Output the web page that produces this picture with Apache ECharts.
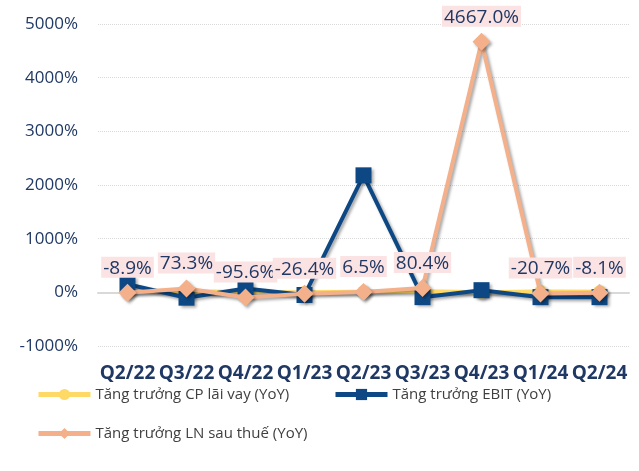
<!DOCTYPE html>
<html><head><meta charset="utf-8">
<script src="https://cdn.jsdelivr.net/npm/echarts@6/dist/echarts.min.js"></script>
<style>html,body{margin:0;padding:0;background:#fff}#c{width:639px;height:471px}</style>
</head><body><div id="c"></div>
<script>
const categories = ['Q2/22','Q3/22','Q4/22','Q1/23','Q2/23','Q3/23','Q4/23','Q1/24','Q2/24'];
const cpLaiVay = [10, 20, 5, 0, 10, 20, 0, 15, 10];
const ebit = [150, -100, 70, -50, 2180, -90, 40, -90, -90];
const lnSauThue = [-8.9, 73.3, -95.6, -26.4, 6.5, 80.4, 4667.0, -20.7, -8.1];
const yTicks = [-1000, 0, 1000, 2000, 3000, 4000, 5000];

const navy = '#1F3864';
const font = '"Open Sans", "Noto Sans", sans-serif';
const shadow = {shadowColor:'rgba(0,0,0,0.35)', shadowBlur:3, shadowOffsetX:2, shadowOffsetY:2};
const chart = echarts.init(document.getElementById('c'));
function legendFor(name, left, top){
  return {data:[name], left:left, top:top, itemWidth:52, itemHeight:14, itemGap:4,
    lineStyle:{width:5},
    textStyle:{color:'#404040', fontSize:15, fontFamily:font}};
}
chart.setOption({
  animation:false,
  grid:{left:98, right:10, top:24, bottom:125, containLabel:false},
  legend:[legendFor('Tăng trưởng CP lãi vay (YoY)', 31, 382), legendFor('Tăng trưởng EBIT (YoY)', 328, 382), legendFor('Tăng trưởng LN sau thuế (YoY)', 31, 421)],
  xAxis:{type:'category', data:categories, boundaryGap:true,
    axisLine:{onZero:true, lineStyle:{color:'#D9D9D9', width:2}},
    axisTick:{show:false},
    axisLabel:{interval:0, color:navy, fontWeight:'bold', fontSize:19, fontFamily:font, margin:18},
    position:'bottom'
  },
  yAxis:{type:'value', min:-1000, max:5000, interval:1000,
    axisLine:{show:false}, axisTick:{show:false},
    axisLabel:{color:navy, fontSize:17, fontFamily:font, margin:20, formatter:v=>yTicks.includes(v)? v+'%':''},
    splitLine:{lineStyle:{color:'#D9D9D9', type:'dotted', width:1}}
  },
  series:[
    {name:'Tăng trưởng CP lãi vay (YoY)', type:'line', data:cpLaiVay, symbol:'circle', symbolSize:13,
      itemStyle:{color:'#FFD966', ...shadow}, lineStyle:{color:'#FFD966', width:4, ...shadow}, z:2},
    {name:'Tăng trưởng EBIT (YoY)', type:'line', data:ebit, symbol:'rect', symbolSize:16,
      itemStyle:{color:'#0D4884', ...shadow}, lineStyle:{color:'#0D4884', width:4, ...shadow}, z:3},
    {name:'Tăng trưởng LN sau thuế (YoY)', type:'line', data:lnSauThue, symbol:'diamond', symbolSize:18,
      itemStyle:{color:'#F4B08A', ...shadow}, lineStyle:{color:'#F4B08A', width:4, ...shadow}, z:4,
      label:{show:true, position:'top', distance:6, color:navy, fontSize:19, fontFamily:font,
        backgroundColor:'#FBE2E3', padding:[2,2,0,2], formatter:p=>p.value.toFixed(1)+'%'}}
  ]
});
</script></body></html>
